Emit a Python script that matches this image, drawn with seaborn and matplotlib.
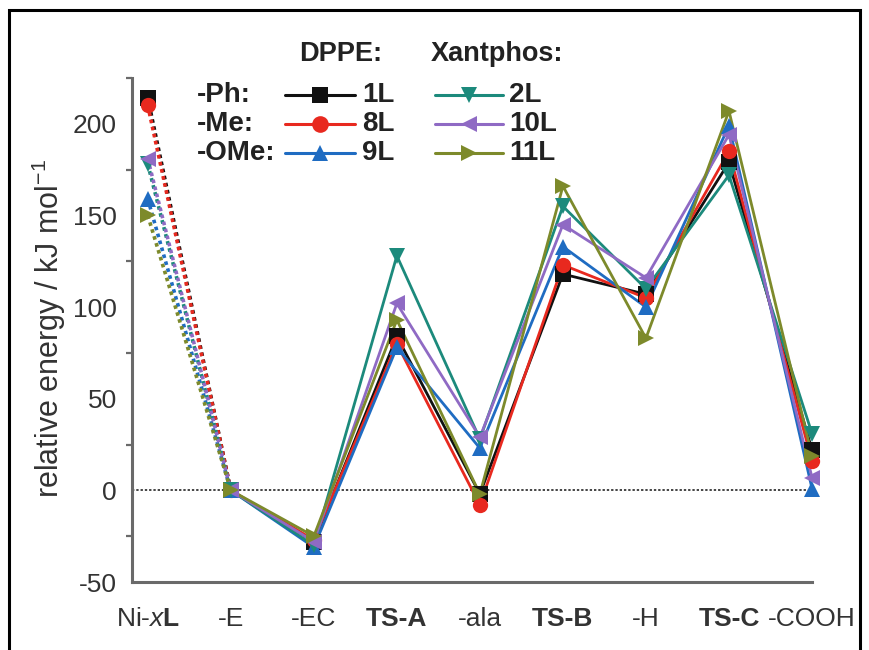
import numpy as np
import pandas as pd
import matplotlib
matplotlib.use("Agg")
import matplotlib.pyplot as plt
import seaborn as sns
from matplotlib.lines import Line2D
from matplotlib.patches import Rectangle

# ---------------- data ----------------
categories = ["Ni-xL", "-E", "-EC", "TS-A", "-ala", "TS-B", "-H", "TS-C", "-COOH"]
tick_labels = [r"Ni-$\mathit{x}\mathbf{L}$", "-E", "-EC", "TS-A", "-ala", "TS-B", "-H", "TS-C", "-COOH"]
bold_ticks = ["TS-A", "TS-B", "TS-C"]

series_names = ["1L", "8L", "9L", "2L", "10L", "11L"]
s_1L = [214, 0, -28, 84, -2, 118, 107, 179, 22]
s_8L = [210, 0, -27, 80, -8, 123, 105, 185, 16]
s_9L = [159, 0, -31, 78, 23, 133, 100, 199, 1]
s_2L = [178, 0, -30, 128, 28, 155, 110, 172, 31]
s_10L = [181, 0, -28, 102, 29, 145, 116, 194, 7]
s_11L = [150, 0, -25, 93, -2, 166, 83, 207, 19]
values = [s_1L, s_8L, s_9L, s_2L, s_10L, s_11L]

row_labels = ["-Ph:", "-Me:", "-OMe:"]
group_titles = ["DPPE:", "Xantphos:"]

colors = ["#111111", "#e8291f", "#1f6cc2", "#1c8a7c", "#8f6ac4", "#7d8a2b"]
markers = ["s", "o", "^", "v", "<", ">"]

# ---------------- style ----------------
sns.set_theme(style="white")
plt.rcParams["font.family"] = ["Liberation Sans", "DejaVu Sans"]
plt.rcParams["mathtext.fontset"] = "custom"
plt.rcParams["mathtext.rm"] = "Liberation Sans"
plt.rcParams["mathtext.it"] = "Liberation Sans:italic"
plt.rcParams["mathtext.bf"] = "Liberation Sans:bold"
plt.rcParams["axes.unicode_minus"] = False

W, H = 869, 650
fig = plt.figure(figsize=(W / 100, H / 100), dpi=100)
ax = fig.add_axes([132 / W, 1 - 582 / H, (812 - 132) / W, (582 - 78) / H])

x_pos = np.arange(len(categories))
spine_col = "#6a6a6a"
text_col = "#333333"

# zero line
ax.axhline(0, color="#444444", lw=1.4, ls=(0, (1.2, 1.0)), zorder=1)

for name, vals, c, m in zip(series_names, values, colors, markers):
    df = pd.DataFrame({"x": x_pos, "y": vals})
    # dotted first segment
    sns.lineplot(data=df.iloc[:2], x="x", y="y", ax=ax, color=c, lw=2.6,
                 linestyle=(0, (1.0, 1.0)), zorder=2, legend=False)
    # solid rest
    sns.lineplot(data=df.iloc[1:], x="x", y="y", ax=ax, color=c, lw=2.0,
                 zorder=3, legend=False)
    # markers
    sns.lineplot(data=df, x="x", y="y", ax=ax, color=c, lw=0, marker=m,
                 markersize=11, markeredgewidth=0, markerfacecolor=c,
                 zorder=4, legend=False)

for ln in ax.get_lines():
    ln.set_clip_on(False)

ax.set_xlim(-0.19, 8.0)
ax.set_ylim(-50, 225)
ax.set_xticks(x_pos)
ax.set_xticklabels(tick_labels)
for lab in ax.get_xticklabels():
    if lab.get_text() in bold_ticks:
        lab.set_fontweight("bold")
ax.set_yticks([-50, 0, 50, 100, 150, 200])
ax.set_yticks(np.arange(-25, 226, 50), minor=True)
ax.set_xlabel("")
ax.set_ylabel(r"relative energy / kJ mol$^{-1}$", fontsize=22, color=text_col)
ax.yaxis.set_label_coords((68 - 132) / (812 - 132), (582 - 328) / (582 - 78))

for side in ["top", "right"]:
    ax.spines[side].set_visible(False)
for side in ["left", "bottom"]:
    ax.spines[side].set_color(spine_col)
    ax.spines[side].set_linewidth(2.2)
ax.tick_params(axis="both", which="major", direction="out", length=7, width=1.8,
               color=spine_col, labelsize=19, labelcolor=text_col, pad=4)
ax.tick_params(axis="y", which="minor", direction="out", length=4, width=1.6,
               color=spine_col, left=True)
ax.tick_params(axis="x", which="major", length=8, pad=10)

# ---------------- legend (manual) ----------------
def fx(px):
    return px / W

def fy(py):
    return 1 - py / H

leg_fs = 20
fig.text(fx(341), fy(54), group_titles[0], fontsize=19.5, fontweight="bold",
         ha="center", va="center", color="#222222")
fig.text(fx(497), fy(54), group_titles[1], fontsize=19.5, fontweight="bold",
         ha="center", va="center", color="#222222")
row_y = [95, 124, 153]
for r, ry in enumerate(row_y):
    fig.text(fx(197), fy(ry), row_labels[r], fontsize=leg_fs, fontweight="bold",
             ha="left", va="center", color="#222222")
    for g, (x0, x1, tx) in enumerate([(285, 355, 362), (435, 503, 509)]):
        i = g * 3 + r
        fig.add_artist(Line2D([fx(x0), fx(x1)], [fy(ry), fy(ry)], transform=fig.transFigure,
                              color=colors[i], lw=2.2))
        fig.add_artist(Line2D([fx((x0 + x1) / 2)], [fy(ry)], transform=fig.transFigure,
                              color=colors[i], marker=markers[i], markersize=12,
                              markeredgewidth=0, lw=0))
        fig.text(fx(tx), fy(ry), series_names[i], fontsize=leg_fs, fontweight="bold",
                 ha="left", va="center", color="#222222")

# outer frame
fig.add_artist(Rectangle((fx(9), fy(H + 5)), fx(860) - fx(9), fy(10) - fy(H + 5),
                         transform=fig.transFigure, fill=False, ec="black", lw=2.2))

fig.savefig("out.png", dpi=100)
